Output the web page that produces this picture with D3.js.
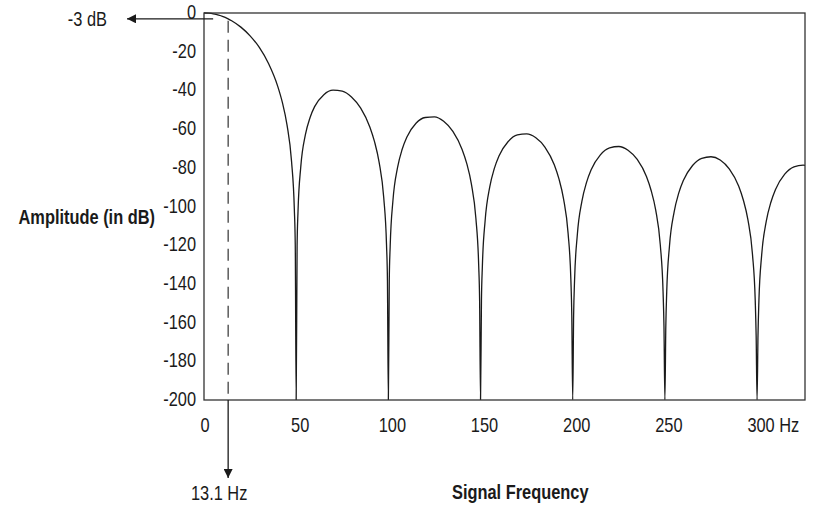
<!DOCTYPE html>
<html>
<head>
<meta charset="utf-8">
<script src="https://cdn.jsdelivr.net/npm/d3@7"></script>
<style>
  body { margin: 0; background: #fff; }
  svg text { font-family: "Liberation Sans", Arial, sans-serif; fill: #1a1a1a; }
</style>
</head>
<body>
<svg id="chart" width="816" height="510"></svg>
<script>
// x ticks / labels
var xTicks = [0, 50, 100, 150, 200, 250, 300];
var xTickLabels = ['0', '50', '100', '150', '200', '250', '300'];
var xUnit = ' Hz';
var yTicks = [0, -20, -40, -60, -80, -100, -120, -140, -160, -180, -200];

// response, [Hz, dB], one array per lobe
var mainLobe = [[0, 0], [2.5, -0.1], [5, -0.4], [7.5, -1], [10, -1.7], [13.1, -3], [15, -4], [20, -7.3], [25, -11.8],
  [30, -17.8], [35, -26.1], [40, -37.9], [42.5, -46.2], [45, -57.7], [47.5, -76.8], [49, -101.4], [49.5, -119.8], [50, -200]];
var sideLobe1 = [[50.5, -120.3], [51, -102.5], [52.5, -79.4], [55, -62.9], [57.5, -54.1], [60, -48.4], [65, -42.2], [70, -39.9],
  [75, -40.4], [80, -43.4], [85, -49.2], [90, -59], [92.5, -66.5], [95, -77.2], [97.5, -95.5], [99, -119.7], [99.5, -138], [100, -200]];
var sideLobe2 = [[100.5, -138.2], [101, -120.3], [102.5, -96.8], [105, -79.8], [107.5, -70.4], [110, -64.2], [115, -57], [120, -54],
  [125, -53.7], [130, -56], [135, -61.2], [140, -70.5], [142.5, -77.7], [145, -88.2], [147.5, -106.3], [149, -130.4], [149.5, -148.6], [150, -200]];
var sideLobe3 = [[150.5, -148.7], [151, -130.7], [152.5, -107.2], [155, -89.9], [157.5, -80.3], [160, -73.9], [165, -66.4], [170, -63],
  [175, -62.5], [180, -64.5], [185, -69.4], [190, -78.4], [192.5, -85.6], [195, -95.9], [197.5, -113.9], [199, -137.9], [199.5, -156.1], [200, -200]];
var sideLobe4 = [[200.5, -156.2], [201, -138.2], [202.5, -114.6], [205, -97.2], [207.5, -87.5], [210, -81], [215, -73.3], [220, -69.7],
  [225, -69], [230, -70.9], [235, -75.7], [240, -84.5], [242.5, -91.6], [245, -101.8], [247.5, -119.8], [249, -143.8], [249.5, -161.9], [250, -200]];
var sideLobe5 = [[250.5, -162], [251, -144], [252.5, -120.3], [255, -102.9], [257.5, -93.1], [260, -86.6], [265, -78.8], [270, -75.1],
  [275, -74.3], [280, -76], [285, -80.7], [290, -89.4], [292.5, -96.5], [295, -106.7], [297.5, -124.6], [299, -148.5], [299.5, -166.7], [300, -200]];
var sideLobe6 = [[300.5, -166.8], [301, -148.7], [302.5, -125], [305, -107.6], [307.5, -97.8], [310, -91.2], [315, -83.3], [320, -79.5],
  [325, -78.6], [326, -78.7]];

// -3 dB corner annotation
var cornerHz = 13.1;
var cornerDb = -3;

var config = {
  left: 204, right: 805, top: 13, bottom: 400,
  maxHz: 326,
  fontSize: 20,
  narrow: 0.82,   // no narrow face installed, squeeze the regular one
  ink: '#1a1a1a'
};

var svg = d3.select('#chart');

var x = d3.scaleLinear().domain([0, config.maxHz]).range([config.left, config.right]);
var y = d3.scaleLinear().domain([-200, 0]).range([config.bottom, config.top]);

function addText(parent, px, py, str, anchor, bold) {
  return parent.append('text')
    .attr('transform', 'translate(' + px + ',' + py + ') scale(' + config.narrow + ',1)')
    .attr('text-anchor', anchor)
    .attr('font-size', config.fontSize)
    .attr('font-weight', bold ? 'bold' : null)
    .text(str);
}

// arrowhead marker
svg.append('defs').append('marker')
  .attr('id', 'arrow')
  .attr('viewBox', '0 0 10 10')
  .attr('refX', 10).attr('refY', 5)
  .attr('markerWidth', 10).attr('markerHeight', 9)
  .attr('markerUnits', 'userSpaceOnUse')
  .attr('orient', 'auto')
  .append('path')
  .attr('d', 'M0,0 L10,5 L0,10 Z')
  .attr('fill', config.ink);

svg.append('clipPath').attr('id', 'plotclip')
  .append('rect')
  .attr('x', config.left).attr('y', config.top - 2)
  .attr('width', config.right - config.left).attr('height', config.bottom - config.top + 2);

// response curve
var response = [].concat(mainLobe, sideLobe1, sideLobe2, sideLobe3, sideLobe4, sideLobe5, sideLobe6);
var line = d3.line()
  .x(function (d) { return x(d[0]); })
  .y(function (d) { return y(d[1]); })
  .curve(d3.curveMonotoneX);

svg.append('path')
  .datum(response)
  .attr('clip-path', 'url(#plotclip)')
  .attr('d', line)
  .attr('fill', 'none')
  .attr('stroke', config.ink)
  .attr('stroke-width', 1.3);

// frame
svg.append('rect')
  .attr('x', config.left).attr('y', config.top)
  .attr('width', config.right - config.left).attr('height', config.bottom - config.top)
  .attr('fill', 'none')
  .attr('stroke', '#333')
  .attr('stroke-width', 1.3);

// y labels
var yl = svg.append('g');
yTicks.forEach(function (v) {
  addText(yl, config.left - 8, y(v) + 6, v, 'end');
});

// x labels
var xl = svg.append('g');
xTicks.forEach(function (v, i) {
  var px = x(v) + (i === 0 ? 1 : 4);
  var t = addText(xl, px, config.bottom + 32, xTickLabels[i], 'middle');
  if (i === xTicks.length - 1) {
    var w = t.node().getComputedTextLength() * config.narrow;
    t.attr('text-anchor', 'start')
      .attr('transform', 'translate(' + (px - w / 2) + ',' + (config.bottom + 32) + ') scale(' + config.narrow + ',1)');
    t.append('tspan').text(xUnit);
  }
});

// axis titles
addText(svg, config.left - 49, y(-100) + 17, 'Amplitude (in dB)', 'end', true);
addText(svg, config.left + 248, config.bottom + 99, 'Signal Frequency', 'start', true);

// -3 dB annotation: arrow out to the left
var cy = y(cornerDb);
var cx = x(cornerHz);
svg.append('line')
  .attr('x1', cx - 15).attr('y1', cy)
  .attr('x2', config.left - 77).attr('y2', cy)
  .attr('stroke', config.ink).attr('stroke-width', 1.3)
  .attr('marker-end', 'url(#arrow)');

addText(svg, config.left - 97, cy + 7, cornerDb + ' dB', 'end');

// dashed drop line to the axis, then arrow below
svg.append('line')
  .attr('x1', cx).attr('y1', cy + 2)
  .attr('x2', cx).attr('y2', config.bottom)
  .attr('stroke', '#333').attr('stroke-width', 1.2)
  .attr('stroke-dasharray', '12,7');

svg.append('line')
  .attr('x1', cx).attr('y1', config.bottom)
  .attr('x2', cx).attr('y2', config.bottom + 78)
  .attr('stroke', config.ink).attr('stroke-width', 1.3)
  .attr('marker-end', 'url(#arrow)');

addText(svg, cx - 9, config.bottom + 100, cornerHz + ' Hz', 'middle');
</script>
</body>
</html>
